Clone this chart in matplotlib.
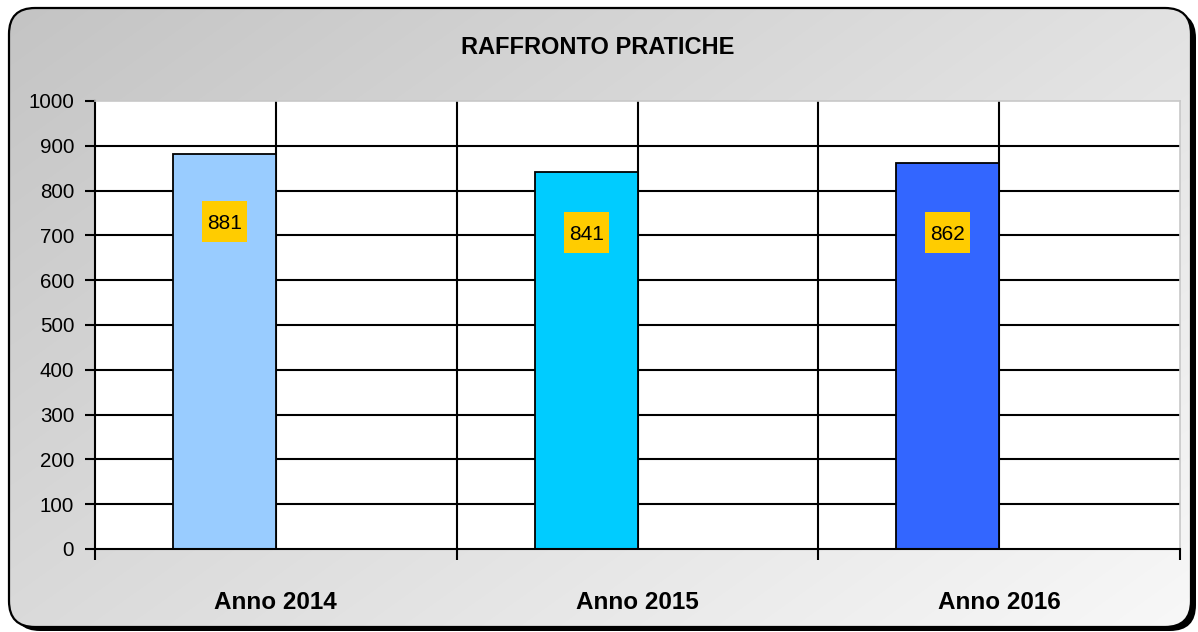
import numpy as np
import matplotlib
matplotlib.use("Agg")
import matplotlib.pyplot as plt
from matplotlib.patches import FancyBboxPatch, Rectangle
from matplotlib.transforms import ScaledTranslation

plt.rcParams['font.family'] = ['Liberation Sans', 'DejaVu Sans']

# ---- data ----
categories = ["Anno 2014", "Anno 2015", "Anno 2016"]
values = [881, 841, 862]
bar_colors = ["#99CCFF", "#00CCFF", "#3366FF"]
title = "RAFFRONTO PRATICHE"
yticks = [0, 100, 200, 300, 400, 500, 600, 700, 800, 900, 1000]
label_y = [731, 707, 707]  # positions of the value labels (layout)

W, H = 1198, 632
fig = plt.figure(figsize=(W / 100, H / 100), dpi=100)
fig.patch.set_facecolor("white")

# ---- background panel (pixel coords) ----
bg = fig.add_axes([0, 0, 1, 1])
bg.set_xlim(0, W)
bg.set_ylim(H, 0)
bg.axis("off")
x0, y0, x1, y1 = 9, 8, 1191, 627
shadow = FancyBboxPatch((x0 + 5, y0 + 4), x1 - x0, y1 - y0,
                        boxstyle="round,pad=0,rounding_size=26",
                        facecolor="black", edgecolor="black", lw=0)
bg.add_patch(shadow)
panel = FancyBboxPatch((x0, y0), x1 - x0, y1 - y0,
                       boxstyle="round,pad=0,rounding_size=26",
                       facecolor="none", edgecolor="black", lw=1.6, zorder=3)
bg.add_patch(panel)
gx = np.linspace(0, 1, 300)[None, :]
gy = np.linspace(0, 1, 200)[:, None]
grad = (196 + 30 * gx + 22 * gy) / 255.0
img = np.dstack([grad, grad, grad])
im = bg.imshow(img, extent=(x0, x1, y1, y0), aspect="auto", zorder=2,
               interpolation="bilinear")
clip = FancyBboxPatch((x0, y0), x1 - x0, y1 - y0,
                      boxstyle="round,pad=0,rounding_size=26",
                      facecolor="none", edgecolor="none", transform=bg.transData)
im.set_clip_path(clip)

fig.text(598 / W, 1 - 47 / H, title, ha="center", va="center",
         fontsize=17, fontweight="bold", color="black")

# ---- plot area ----
left, right, top, bottom = 95, 1180, 101, 549
ax = fig.add_axes([left / W, 1 - bottom / H, (right - left) / W, (bottom - top) / H])
ax.set_facecolor("white")
n = len(categories)
ax.set_xlim(-0.5, n - 0.5)
ax.set_ylim(0, 1000)

for yv in yticks[1:-1]:
    ax.axhline(yv, color="black", lw=1.5, zorder=1)
for i in range(n):
    ax.axvline(i, color="black", lw=1.5, zorder=1)
for i in range(n - 1):
    ax.axvline(i + 0.5, color="black", lw=1.5, zorder=1)

bw = 0.284
xs = np.arange(n)
ax.bar(xs - bw, values, width=bw, align="edge", color=bar_colors,
       edgecolor="black", linewidth=1.3, zorder=2)

for i, (v, ly) in enumerate(zip(values, label_y)):
    cx = i - bw / 2
    tr = fig.dpi_scale_trans + ScaledTranslation(cx, ly, ax.transData)
    ax.add_patch(Rectangle((-0.225, -0.205), 0.45, 0.41, transform=tr,
                           facecolor="#FFCC00", edgecolor="none", zorder=3))
    ax.text(cx, ly, str(v), ha="center", va="center_baseline", fontsize=15,
            color="black", zorder=4)

ax.set_yticks(yticks)
ax.set_yticklabels([str(t) for t in yticks], fontsize=14.8)
ax.tick_params(axis="y", length=7, width=1.5, pad=8, color="black")

ax.set_xticks(xs)
ax.set_xticklabels(categories, fontsize=17.5, fontweight="bold")
ax.tick_params(axis="x", which="major", length=0, pad=30)
ax.set_xticks(np.arange(-0.5, n, 1.0), minor=True)
ax.tick_params(axis="x", which="minor", length=8, width=1.5, color="black")
ax.xaxis.get_minor_ticks()[-1].tick1line.set_color("#B0B0B0")

for s in ["left", "bottom"]:
    ax.spines[s].set_color("black")
    ax.spines[s].set_linewidth(1.5)
for s in ["top", "right"]:
    ax.spines[s].set_color("#C8C8C8")
    ax.spines[s].set_linewidth(1.2)

fig.savefig("out.png", dpi=100, facecolor="white")
